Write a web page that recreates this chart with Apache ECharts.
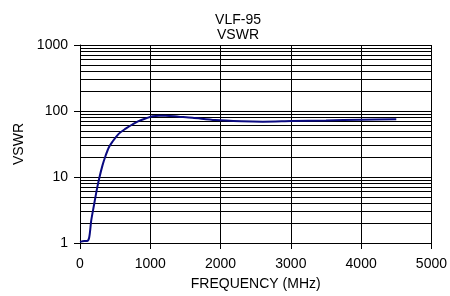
<!DOCTYPE html>
<html>
<head>
    <meta charset="utf-8">
    <title>VLF-95 VSWR</title>
    <script src="https://cdn.jsdelivr.net/npm/echarts@6/dist/echarts.min.js"></script>
    <style>
        html, body { margin: 0; padding: 0; background: #fff; }
        #chart { width: 450px; height: 296px; }
    </style>
</head>
<body>
    <div id="chart"></div>
    <script>
        // values
        var freq = [0, 60, 100, 130, 160, 200, 240, 273, 320, 364, 410, 460, 550, 650, 750, 840, 950, 1030, 1125, 1217, 1405, 1600, 1925, 2300, 2600, 3010, 3500, 4000, 4500];
        var vswr = [1.04, 1.07, 1.07, 1.2, 2.2, 3.8, 6.5, 9.5, 15, 21, 28, 34, 45, 54, 63, 71, 78, 83, 85, 85, 82, 79, 73, 70, 69, 70.5, 72, 74, 75];
        var xTicks = [0, 1000, 2000, 3000, 4000, 5000];
        var yTicks = [1, 10, 100, 1000];
        // minor grid lines of the log axis (2..9 in every decade)
        var minorLines = [2, 3, 4, 5, 6, 7, 8, 9, 20, 30, 40, 50, 60, 70, 80, 90, 200, 300, 400, 500, 600, 700, 800, 900];

        var chart = echarts.init(document.getElementById('chart'));
        var font = 'Liberation Sans, Arial, sans-serif';

        var points = [];
        for (var i = 0; i < freq.length; i++) {
            points.push([freq[i], vswr[i]]);
        }

        chart.setOption({
            animation: false,
            title: {
                text: 'VLF-95\nVSWR',
                left: 233,
                top: 8,
                textAlign: 'center',
                textStyle: { fontFamily: font, fontSize: 14, fontWeight: 'normal', color: '#000', lineHeight: 15 }
            },
            grid: { left: 80, right: 16, top: 45, bottom: 51 },
            xAxis: {
                type: 'value',
                min: xTicks[0],
                max: xTicks[xTicks.length - 1],
                interval: 1000,
                name: 'FREQUENCY (MHz)',
                nameLocation: 'middle',
                nameGap: 34,
                nameTextStyle: { fontFamily: font, fontSize: 14, color: '#000' },
                axisLine: { show: true, lineStyle: { color: '#000', width: 1 } },
                axisTick: { show: true, length: 6, lineStyle: { color: '#000' } },
                axisLabel: { fontFamily: font, fontSize: 14, color: '#000', margin: 14, formatter: function (v) { return String(v); } },
                splitLine: { show: true, lineStyle: { color: '#000', width: 1 } }
            },
            yAxis: {
                type: 'log',
                logBase: 10,
                min: yTicks[0],
                max: yTicks[yTicks.length - 1],
                name: 'VSWR',
                nameLocation: 'middle',
                nameGap: 49,
                nameTextStyle: { fontFamily: font, fontSize: 14, color: '#000' },
                axisLine: { show: true, lineStyle: { color: '#000', width: 1 } },
                axisTick: { show: true, length: 6, lineStyle: { color: '#000' } },
                axisLabel: { fontFamily: font, fontSize: 14, color: '#000', margin: 12, formatter: function (v) { return String(Math.round(v)); } },
                splitLine: { show: true, lineStyle: { color: '#000', width: 1 } }
            },
            series: [{
                type: 'line',
                data: points,
                smooth: 0.3,
                showSymbol: false,
                symbol: 'none',
                lineStyle: { color: '#0a0a80', width: 2 },
                markLine: {
                    silent: true,
                    symbol: 'none',
                    label: { show: false },
                    lineStyle: { color: '#000', width: 1, type: 'solid' },
                    data: minorLines.map(function (v) { return { yAxis: v }; })
                },
                z: 5
            }]
        });
    </script>
</body>
</html>
